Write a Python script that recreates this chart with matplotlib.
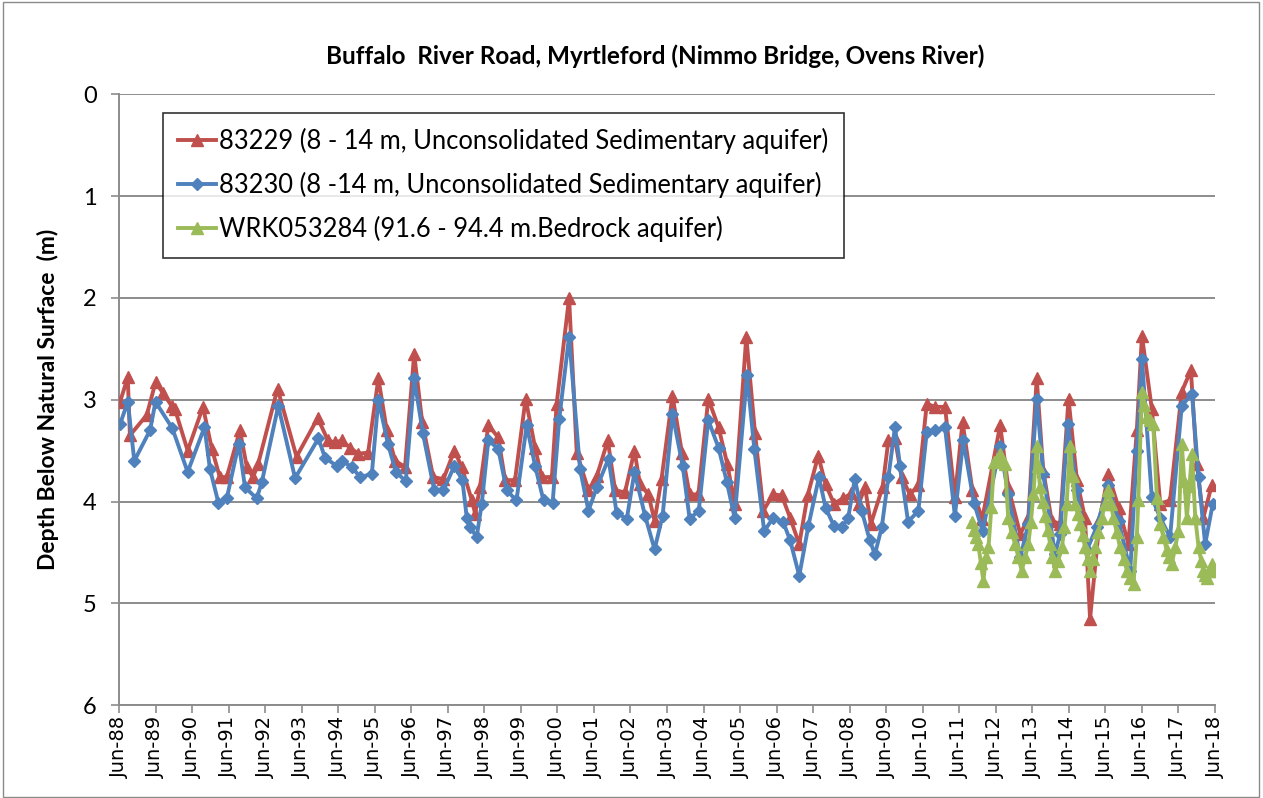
import matplotlib
matplotlib.use("Agg")
import matplotlib.pyplot as plt
from matplotlib.lines import Line2D
from matplotlib.patches import Rectangle

# ---------------- data (decimal years, depth below natural surface in m) ----------------
red_x = [1988.53, 1988.74, 1988.80, 1989.26, 1989.50, 1989.70, 1989.94, 1990.03, 1990.38, 1990.80,
         1991.04, 1991.26, 1991.45, 1991.81, 1992.00, 1992.17, 1992.31, 1992.84, 1993.36, 1993.94,
         1994.22, 1994.41, 1994.60, 1994.82, 1995.05, 1995.32, 1995.60, 1995.83, 1996.06, 1996.33,
         1996.58, 1996.80, 1997.10, 1997.38, 1997.68, 1997.88, 1998.16, 1998.25, 1998.38, 1998.61,
         1998.88, 1999.07, 1999.34, 1999.63, 1999.89, 2000.07, 2000.35, 2000.48, 2000.82, 2001.03,
         2001.35, 2001.58, 2001.88, 2002.08, 2002.35, 2002.61, 2002.76, 2002.99, 2003.16, 2003.35,
         2003.65, 2003.91, 2004.12, 2004.36, 2004.63, 2004.91, 2005.15, 2005.35, 2005.67, 2005.91,
         2006.14, 2006.40, 2006.64, 2006.87, 2007.12, 2007.35, 2007.64, 2007.84, 2008.07, 2008.32,
         2008.55, 2008.75, 2008.92, 2009.08, 2009.40, 2009.56, 2009.74, 2009.92, 2010.15, 2010.38,
         2010.61, 2010.84, 2011.11, 2011.38, 2011.59, 2011.86, 2012.13, 2012.62, 2012.84, 2013.17,
         2013.39, 2013.62, 2013.80, 2014.03, 2014.26, 2014.49, 2014.72, 2014.94, 2015.08, 2015.35,
         2015.58, 2015.86, 2016.13, 2016.36, 2016.50, 2016.77, 2017.00, 2017.27, 2017.59, 2017.84,
         2018.00, 2018.18, 2018.41]
red_y = [3.02, 2.78, 3.35, 3.15, 2.83, 2.93, 3.06, 3.09, 3.50, 3.07,
         3.48, 3.76, 3.76, 3.30, 3.66, 3.76, 3.63, 2.89, 3.56, 3.18,
         3.40, 3.42, 3.40, 3.47, 3.53, 3.52, 2.79, 3.30, 3.60, 3.66,
         2.55, 3.22, 3.76, 3.78, 3.50, 3.66, 3.99, 4.12, 3.86, 3.25,
         3.37, 3.79, 3.79, 2.99, 3.47, 3.76, 3.76, 3.04, 2.00, 3.52,
         3.89, 3.75, 3.40, 3.89, 3.91, 3.50, 3.83, 3.93, 4.19, 3.78,
         2.96, 3.52, 3.93, 3.93, 2.99, 3.27, 3.63, 4.02, 2.38, 3.33,
         4.09, 3.93, 3.94, 4.16, 4.42, 3.94, 3.55, 3.83, 4.02, 3.97,
         3.92, 4.02, 3.86, 4.22, 3.86, 3.40, 3.38, 3.76, 3.93, 3.84,
         3.04, 3.07, 3.07, 3.96, 3.22, 3.89, 4.17, 3.25, 3.86, 4.32,
         4.16, 2.79, 3.70, 4.19, 4.22, 2.99, 3.79, 4.16, 5.15, 4.16,
         3.73, 4.06, 4.42, 3.30, 2.37, 3.09, 4.02, 3.99, 2.92, 2.71,
         3.63, 4.16, 3.84]

blue_x = [1988.53, 1988.74, 1988.92, 1989.35, 1989.50, 1989.96, 1990.38, 1990.84, 1990.99, 1991.22,
          1991.45, 1991.78, 1991.95, 1992.27, 1992.41, 1992.86, 1993.32, 1993.96, 1994.14, 1994.46,
          1994.60, 1994.87, 1995.10, 1995.42, 1995.60, 1995.86, 1996.08, 1996.35, 1996.58, 1996.82,
          1997.13, 1997.38, 1997.68, 1997.90, 1998.02, 1998.11, 1998.29, 1998.43, 1998.61, 1998.88,
          1999.11, 1999.38, 1999.66, 1999.89, 2000.12, 2000.37, 2000.55, 2000.82, 2001.12, 2001.35,
          2001.58, 2001.90, 2002.12, 2002.40, 2002.61, 2002.90, 2003.16, 2003.38, 2003.65, 2003.93,
          2004.12, 2004.37, 2004.63, 2004.91, 2005.14, 2005.35, 2005.69, 2005.89, 2006.16, 2006.41,
          2006.68, 2006.87, 2007.12, 2007.37, 2007.66, 2007.84, 2008.07, 2008.30, 2008.46, 2008.64,
          2008.83, 2009.05, 2009.19, 2009.38, 2009.56, 2009.74, 2009.88, 2010.10, 2010.38, 2010.61,
          2010.84, 2011.11, 2011.38, 2011.61, 2011.90, 2012.14, 2012.62, 2012.84, 2013.17, 2013.39,
          2013.62, 2013.80, 2014.12, 2014.26, 2014.47, 2014.72, 2014.99, 2015.26, 2015.58, 2015.86,
          2016.18, 2016.36, 2016.50, 2016.77, 2017.00, 2017.27, 2017.59, 2017.87, 2018.05, 2018.23,
          2018.44]
blue_y = [3.24, 3.02, 3.60, 3.30, 3.02, 3.28, 3.71, 3.27, 3.68, 4.01,
          3.97, 3.43, 3.86, 3.97, 3.81, 3.06, 3.77, 3.38, 3.57, 3.65,
          3.60, 3.66, 3.76, 3.73, 3.00, 3.43, 3.71, 3.80, 2.79, 3.33,
          3.89, 3.89, 3.65, 3.79, 4.16, 4.25, 4.35, 4.02, 3.40, 3.48,
          3.89, 3.99, 3.25, 3.65, 3.99, 4.01, 3.19, 2.38, 3.68, 4.09,
          3.86, 3.58, 4.11, 4.17, 3.71, 4.14, 4.47, 4.14, 3.14, 3.65,
          4.17, 4.09, 3.20, 3.47, 3.81, 4.16, 2.76, 3.48, 4.29, 4.16,
          4.20, 4.38, 4.73, 4.24, 3.76, 4.06, 4.24, 4.25, 4.16, 3.78,
          4.09, 4.38, 4.52, 4.25, 3.76, 3.27, 3.65, 4.20, 4.09, 3.32,
          3.30, 3.27, 4.14, 3.40, 4.01, 4.29, 3.45, 3.93, 4.55, 4.22,
          2.99, 3.73, 4.52, 4.32, 3.24, 3.89, 4.48, 4.25, 3.84, 4.19,
          4.68, 3.50, 2.60, 3.96, 4.16, 4.35, 3.06, 2.94, 3.76, 4.42,
          4.02]

green_x = [2011.84, 2011.90, 2011.96, 2012.02, 2012.09, 2012.16, 2012.23, 2012.30, 2012.38, 2012.45,
           2012.53, 2012.62, 2012.68, 2012.75, 2012.84, 2012.93, 2013.03, 2013.12, 2013.21, 2013.30,
           2013.39, 2013.46, 2013.53, 2013.62, 2013.66, 2013.71, 2013.78, 2013.85, 2013.92, 2013.99,
           2014.05, 2014.12, 2014.21, 2014.31, 2014.38, 2014.44, 2014.53, 2014.60, 2014.67, 2014.74,
           2014.81, 2014.88, 2014.94, 2015.01, 2015.08, 2015.15, 2015.22, 2015.31, 2015.40, 2015.49,
           2015.58, 2015.65, 2015.72, 2015.81, 2015.90, 2016.00, 2016.09, 2016.18, 2016.27, 2016.36,
           2016.40, 2016.50, 2016.56, 2016.63, 2016.72, 2016.81, 2016.91, 2017.00, 2017.09, 2017.18,
           2017.25, 2017.32, 2017.41, 2017.50, 2017.59, 2017.66, 2017.73, 2017.80, 2017.87, 2017.96,
           2018.05, 2018.12, 2018.18, 2018.23, 2018.28, 2018.35, 2018.41, 2018.46]
green_y = [4.20, 4.28, 4.35, 4.42, 4.60, 4.78, 4.55, 4.45, 4.05, 3.61,
           3.58, 3.53, 3.60, 3.63, 4.16, 4.30, 4.42, 4.55, 4.68, 4.55,
           4.42, 4.20, 3.93, 3.45, 3.65, 3.86, 4.00, 4.14, 4.28, 4.42,
           4.55, 4.68, 4.58, 4.45, 4.25, 4.02, 3.45, 3.75, 4.02, 4.12,
           4.22, 4.33, 4.45, 4.56, 4.68, 4.56, 4.45, 4.30, 4.16, 4.02,
           3.89, 4.02, 4.16, 4.30, 4.45, 4.56, 4.68, 4.75, 4.81, 4.35,
           3.99, 2.92, 3.05, 3.17, 3.20, 3.24, 3.97, 4.22, 4.35, 4.48,
           4.55, 4.61, 4.45, 4.29, 3.43, 3.80, 4.16, 3.85, 3.53, 4.16,
           4.45, 4.58, 4.68, 4.72, 4.75, 4.68, 4.61, 4.68]

tick_years = list(range(1988, 2019))
tick_labels = ["Jun-%02d" % (y % 100) for y in tick_years]

labels = ["83229 (8 - 14 m, Unconsolidated Sedimentary aquifer)",
          "83230 (8 -14 m, Unconsolidated Sedimentary aquifer)",
          "WRK053284 (91.6 - 94.4 m.Bedrock aquifer)"]
title = "Buffalo  River Road, Myrtleford (Nimmo Bridge, Ovens River)"
ylabel = "Depth Below Natural Surface  (m)"

RED, BLUE, GREEN = "#C0504D", "#4F81BD", "#9BBB59"
GRID = "#8c8c8c"
FONT = "Lato"
LW = 2.8

fig = plt.figure(figsize=(12.63, 7.98), dpi=100)
fig.patch.set_facecolor("white")
fig.patches.append(Rectangle((0.0025, 0.0015), 0.9945, 0.996, transform=fig.transFigure,
                             fill=False, edgecolor="#8a8a8a", linewidth=1.0))

ax = fig.add_axes([0.0942, 0.1165, 0.8678, 0.7651])

ax.plot(red_x, red_y, color=RED, lw=LW, marker="^", ms=9, mec=RED, mfc=RED, zorder=3)
ax.plot(blue_x, blue_y, color=BLUE, lw=LW, marker="D", ms=6, mec=BLUE, mfc=BLUE, zorder=4)
ax.plot(green_x, green_y, color=GREEN, lw=LW, marker="^", ms=9, mec=GREEN, mfc=GREEN, zorder=5)

ax.set_xlim(1988.5, 2018.5)
ax.set_ylim(6, 0)
ax.set_yticks(range(0, 7))
ax.set_yticklabels([str(v) for v in range(0, 7)], fontfamily=FONT, fontsize=17)
ax.set_xticks([y + 0.5 for y in tick_years])
ax.set_xticklabels(tick_labels, rotation=90, fontfamily="DejaVu Sans", fontsize=14)

ax.grid(axis="y", color=GRID, lw=1.4)
ax.set_axisbelow(True)
for s in ["top", "right"]:
    ax.spines[s].set_visible(False)
for s in ["left", "bottom"]:
    ax.spines[s].set_color(GRID)
    ax.spines[s].set_linewidth(1.4)
ax.tick_params(axis="both", colors=GRID, length=6, width=1.2, direction="out")
ax.tick_params(axis="both", labelcolor="black")
ax.tick_params(axis="y", pad=10)
ax.tick_params(axis="x", pad=2)

ax.set_ylabel(ylabel, fontfamily=FONT, fontweight="bold", fontsize=16.5, labelpad=17)
fig.text(0.519, 0.930, title, ha="center", va="center", fontfamily=FONT,
         fontweight="bold", fontsize=17.5)

handles = [Line2D([], [], color=RED, lw=LW, marker="^", ms=9),
           Line2D([], [], color=BLUE, lw=LW, marker="D", ms=6),
           Line2D([], [], color=GREEN, lw=LW, marker="^", ms=9)]
leg = ax.legend(handles, labels, loc="upper left", bbox_to_anchor=(0.040, 0.970),
                borderaxespad=0, frameon=True, fancybox=False, shadow=False,
                prop={"family": FONT, "size": 18.4}, handlelength=1.5, handletextpad=0.1,
                labelspacing=0.7, borderpad=0.6)
leg.get_frame().set_edgecolor("black")
leg.get_frame().set_linewidth(1.2)

fig.savefig("out.png", dpi=100)
